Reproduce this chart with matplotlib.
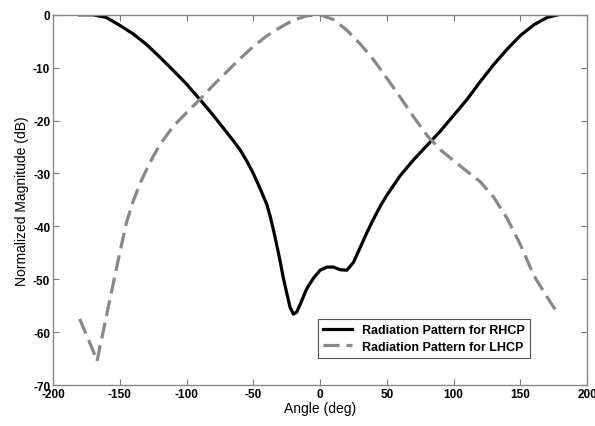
import matplotlib
matplotlib.use('Agg')
import matplotlib.pyplot as plt

plt.rcParams['font.family'] = ['Liberation Sans', 'DejaVu Sans']
plt.rcParams['axes.unicode_minus'] = False

# angle (deg) and normalized magnitude (dB)
rhcp_angle = [-180, -170, -160, -150, -140, -130, -120, -110, -100, -90, -80, -70,
              -65, -60, -55, -50, -45, -40, -37.5, -35, -32.5, -30, -27.5, -25, -22.5,
              -20, -17.5, -15, -10, -5, 0, 5, 10, 15, 20, 25, 30, 35, 40, 45, 50,
              60, 70, 80, 90, 100, 110, 120, 130, 140, 150, 160, 170, 178]
rhcp_mag = [0, 0, -0.5, -2, -3.6, -5.6, -8, -10.5, -13.1, -16, -19, -22.2,
            -23.8, -25.5, -27.6, -30, -32.8, -35.8, -38, -40.6, -43.5, -46.5, -49.8, -52.6, -55.3,
            -56.6, -56.2, -54.8, -51.8, -49.8, -48.3, -47.7, -47.7, -48.2, -48.3, -46.8, -44, -41.2, -38.6, -36.2, -34.1,
            -30.4, -27.4, -24.7, -22, -19, -16, -12.6, -9.4, -6.5, -3.9, -1.9, -0.5, 0]

lhcp_angle = [-180, -175, -170, -167, -165, -160, -155, -150, -145, -140, -135, -130,
              -125, -120, -110, -100, -90, -80, -70, -60, -50, -40, -30, -20, -10,
              0, 10, 20, 30, 40, 50, 60, 70, 80, 90, 100, 110, 120, 130, 140, 150,
              160, 170, 178]
lhcp_mag = [-57.5, -60.5, -63.5, -65.5, -63, -57, -51, -45, -39.3, -35.3, -32, -29.3,
            -26.8, -24.6, -21.1, -18.5, -16, -13.3, -10.8, -8.3, -6, -4, -2.4, -1, -0.2,
            0, -0.9, -2.9, -5.5, -8.5, -12, -15.6, -19.3, -22.8, -25.5, -27.6, -29.6, -31.6, -34.5, -38.5, -43.5,
            -49.3, -53.4, -56.5]

fig = plt.figure(figsize=(5.95, 4.27), dpi=100)
ax = fig.add_axes([0.089, 0.096, 0.898, 0.867])

ax.plot(rhcp_angle, rhcp_mag, color='black', lw=2.3, label='Radiation Pattern for RHCP')
ax.plot(lhcp_angle, lhcp_mag, color='#888888', lw=2.3, ls=(0, (5, 2.2)),
        label='Radiation Pattern for LHCP')

ax.set_xlim(-200, 200)
ax.set_ylim(-70, 0)
ax.set_xticks(range(-200, 201, 50))
ax.set_yticks(range(-70, 1, 10))
ax.tick_params(direction='in', top=True, right=True, length=4, width=0.8,
               color='#777777', labelsize=8.5, pad=2)
for lbl in ax.get_xticklabels() + ax.get_yticklabels():
    lbl.set_fontweight('bold')
for sp in ax.spines.values():
    sp.set_color('#888888')
    sp.set_linewidth(1.0)

ax.set_xlabel('Angle (deg)', fontsize=10, labelpad=1)
ax.set_ylabel('Normalized Magnitude (dB)', fontsize=10, labelpad=3)

leg = ax.legend(loc='lower right', bbox_to_anchor=(0.905, 0.055), fancybox=False,
                edgecolor='#555555', framealpha=1, prop={'size': 9, 'weight': 'bold'},
                handlelength=2.3, borderpad=0.45, labelspacing=0.35)
leg.get_frame().set_linewidth(0.8)

fig.savefig('out.png', dpi=100)
